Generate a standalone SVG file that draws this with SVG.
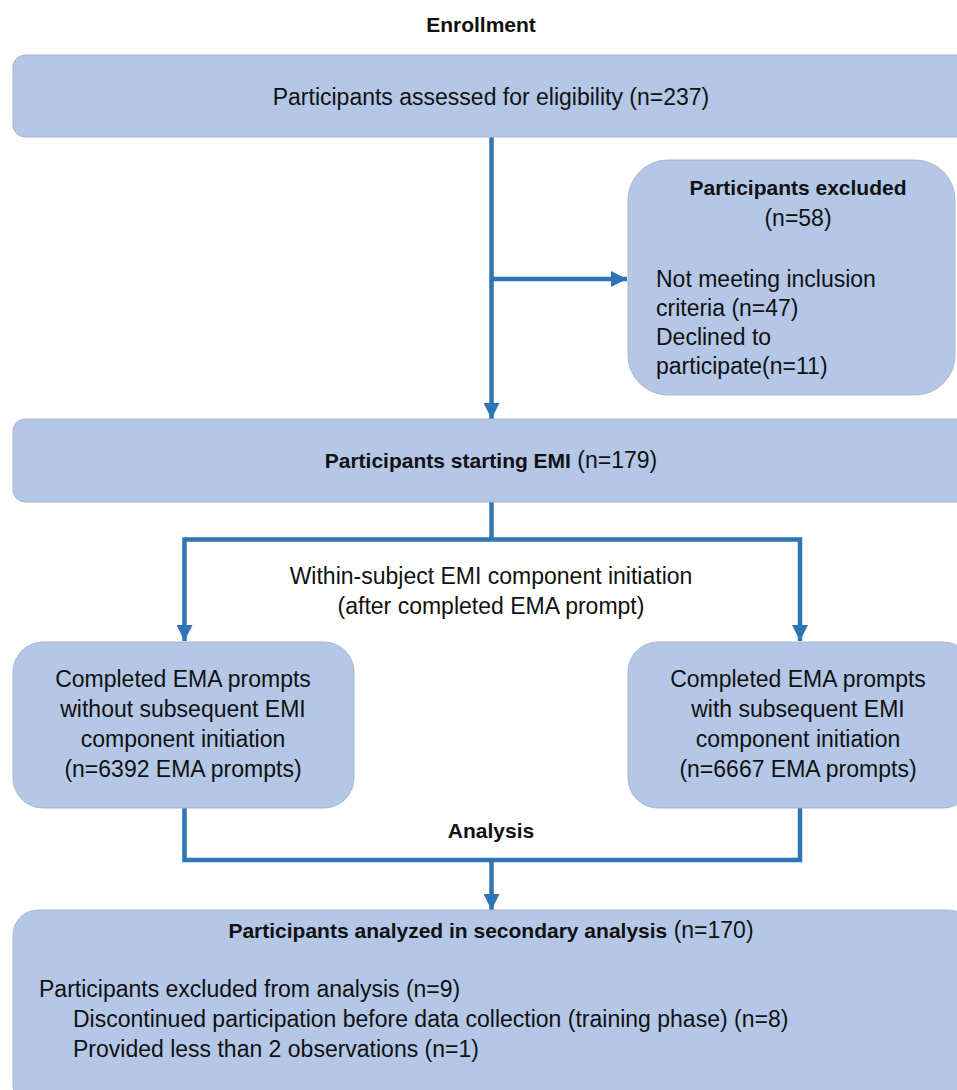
<svg xmlns="http://www.w3.org/2000/svg" width="957" height="1090" viewBox="0 0 957 1090">
<defs>
<style>
.box{fill:#B4C7E7;stroke:#A9B7CE;stroke-width:1}
.t{font-family:"Liberation Sans",Arial,sans-serif;font-size:23px;fill:#111}
.b{font-weight:bold;font-size:21px}
.c{text-anchor:middle}
.ln{fill:none;stroke:#2E75B6;stroke-width:4.5}
</style>
<marker id="ah" viewBox="0 0 16 16" refX="16" refY="8" markerWidth="16" markerHeight="16" markerUnits="userSpaceOnUse" orient="auto">
<path d="M0,0 L16,8 L0,16 Z" fill="#2E75B6"/>
</marker>
</defs>
<rect width="957" height="1090" fill="#fff"/>
<text class="t b c" x="481" y="32">Enrollment</text>
<text class="t b c" x="491" y="838">Analysis</text>

<g id="connectors">
<line class="ln" x1="491.5" y1="137" x2="491.5" y2="419" marker-end="url(#ah)"/>
<line class="ln" x1="491.5" y1="279" x2="627" y2="279" marker-end="url(#ah)"/>
<polyline class="ln" points="491.5,502 491.5,539.5"/>
<polyline class="ln" points="184.5,539.5 800,539.5 800,641" marker-end="url(#ah)"/>
<line class="ln" x1="184.5" y1="537.3" x2="184.5" y2="641" marker-end="url(#ah)"/>
<polyline class="ln" points="184.5,808 184.5,860 800,860 800,808"/>
<line class="ln" x1="491.5" y1="860" x2="491.5" y2="910" marker-end="url(#ah)"/>
<text class="t c" x="491" y="584">Within-subject EMI component initiation</text>
<text class="t c" x="491" y="614">(after completed EMA prompt)</text>
</g>

<g id="n1">
<rect class="box" x="13" y="55" width="960" height="82" rx="12"/>
<text class="t c" x="491" y="105">Participants assessed for eligibility (n=237)</text>
</g>

<g id="n2">
<rect class="box" x="628" y="160" width="327" height="235" rx="40"/>
<text class="t b c" x="798" y="195">Participants excluded</text>
<text class="t c" x="798" y="226">(n=58)</text>
<text class="t" x="656" y="287">Not meeting inclusion</text>
<text class="t" x="656" y="316">criteria (n=47)</text>
<text class="t" x="656" y="345">Declined to</text>
<text class="t" x="656" y="374">participate(n=11)</text>
</g>

<g id="n3">
<rect class="box" x="13" y="419" width="960" height="83" rx="12"/>
<text class="t c" x="491" y="468"><tspan class="b">Participants starting EMI</tspan> (n=179)</text>
</g>

<g id="n4">
<rect class="box" x="13" y="642" width="341" height="166" rx="30"/>
<text class="t c" x="183" y="687">Completed EMA prompts</text>
<text class="t c" x="183" y="717">without subsequent EMI</text>
<text class="t c" x="183" y="747">component initiation</text>
<text class="t c" x="183" y="777">(n=6392 EMA prompts)</text>
</g>

<g id="n5">
<rect class="box" x="628" y="642" width="345" height="166" rx="30"/>
<text class="t c" x="798" y="687">Completed EMA prompts</text>
<text class="t c" x="798" y="717">with subsequent EMI</text>
<text class="t c" x="798" y="747">component initiation</text>
<text class="t c" x="798" y="777">(n=6667 EMA prompts)</text>
</g>

<g id="n6">
<rect class="box" x="13" y="910" width="960" height="200" rx="25"/>
<text class="t c" x="491" y="938"><tspan class="b">Participants analyzed in secondary analysis</tspan> (n=170)</text>
<text class="t" x="39" y="997">Participants excluded from analysis (n=9)</text>
<text class="t" x="73" y="1027">Discontinued participation before data collection (training phase) (n=8)</text>
<text class="t" x="73" y="1057">Provided less than 2 observations (n=1)</text>
</g>
</svg>
